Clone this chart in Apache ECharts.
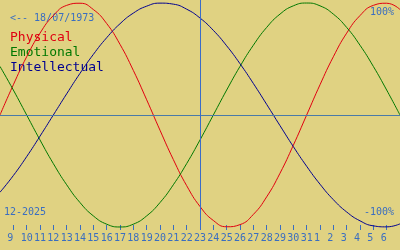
<!DOCTYPE html>
<html><head><meta charset="utf-8">
<script src="https://cdn.jsdelivr.net/npm/echarts@6/dist/echarts.min.js"></script>
<style>html,body{margin:0;padding:0;background:#e0d282;}#c{width:400px;height:250px;}</style>
</head><body><div id="c"></div>
<script>
// Days shown: Dec 8, 2025 .. Jan 7, 2026
var days = ['8','9','10','11','12','13','14','15','16','17','18','19','20','21','22','23','24','25','26','27','28','29','30','31','1','2','3','4','5','6','7'];
var physical = [0,0.270,0.520,0.731,0.888,0.979,0.998,0.942,0.817,0.631,0.398,0.136,-0.136,-0.398,-0.631,-0.817,-0.942,-0.998,-0.979,-0.888,-0.731,-0.520,-0.270,0,0.270,0.520,0.731,0.888,0.979,0.998,0.942];
var emotional = [0.434,0.223,0,-0.223,-0.434,-0.623,-0.782,-0.901,-0.975,-1,-0.975,-0.901,-0.782,-0.623,-0.434,-0.223,0,0.223,0.434,0.623,0.782,0.901,0.975,1,0.975,0.901,0.782,0.623,0.434,0.223,0];
var intellectual = [-0.690,-0.541,-0.372,-0.189,0,0.189,0.372,0.541,0.690,0.815,0.910,0.972,0.999,0.990,0.945,0.866,0.756,0.618,0.458,0.282,0.095,-0.095,-0.282,-0.458,-0.618,-0.756,-0.866,-0.945,-0.990,-0.999,-0.972];
var todayLabel = '23';
var birthText = '<-- 18/07/1973';
var monthText = '12-2025';
var legendNames = ['Physical','Emotional','Intellectual'];

var FONT = '"DejaVu Sans Mono", "Liberation Mono", monospace';
var BLUE = '#3a6ec0';
var chart = echarts.init(document.getElementById('c'), null, {renderer:'canvas'});
var last = days.length - 1;
chart.setOption({
  backgroundColor: '#e0d282',
  animation: false,
  grid: {left: 0, right: 0, top: 0, bottom: 20},
  xAxis: {
    type: 'category', data: days, boundaryGap: false, position: 'bottom',
    axisLine: {show: false, onZero: false},
    axisTick: {show: true, inside: true, length: 5, lineStyle: {color: BLUE, width: 1},
      interval: function(i){ return i > 0 && i < last; }},
    axisLabel: {show: true, margin: 3, color: BLUE, fontFamily: FONT, fontSize: 10,
      interval: function(i){ return i > 0 && i < last; },
      formatter: function(v){ return v.length < 2 ? v + ' ' : v; }},
    splitLine: {show: false}
  },
  yAxis: {type: 'value', min: -1.027, max: 1.027, show: false, splitLine: {show: false}},
  series: [
    {name: legendNames[0], type: 'line', data: physical, smooth: true, symbol: 'none',
      lineStyle: {color: '#e00010', width: 1},
      markLine: {silent: true, symbol: 'none', label: {show: false}, animation: false,
        data: [
          {yAxis: 0, lineStyle: {color: '#4a7aa8', width: 1, type: 'solid'}},
          {xAxis: todayLabel, lineStyle: {color: '#3a6cc8', width: 1, type: 'solid'}}
        ]}},
    {name: legendNames[1], type: 'line', data: emotional, smooth: true, symbol: 'none',
      lineStyle: {color: '#007800', width: 1}},
    {name: legendNames[2], type: 'line', data: intellectual, smooth: true, symbol: 'none',
      lineStyle: {color: '#000090', width: 1}}
  ],
  graphic: [
    {type: 'text', left: 10, top: 13, style: {text: birthText, fill: BLUE, font: '10px ' + FONT}},
    {type: 'text', left: 10, top: 31, style: {text: legendNames[0], fill: '#e00010', font: '13px ' + FONT}},
    {type: 'text', left: 10, top: 46, style: {text: legendNames[1], fill: '#007800', font: '13px ' + FONT}},
    {type: 'text', left: 10, top: 61, style: {text: legendNames[2], fill: '#000090', font: '13px ' + FONT}},
    {type: 'text', left: 4, top: 207, style: {text: monthText, fill: BLUE, font: '10px ' + FONT}},
    {type: 'text', right: 6, top: 7, style: {text: '100%', fill: BLUE, font: '10px ' + FONT}},
    {type: 'text', right: 6, top: 207, style: {text: '-100%', fill: BLUE, font: '10px ' + FONT}}
  ]
});
</script></body></html>
